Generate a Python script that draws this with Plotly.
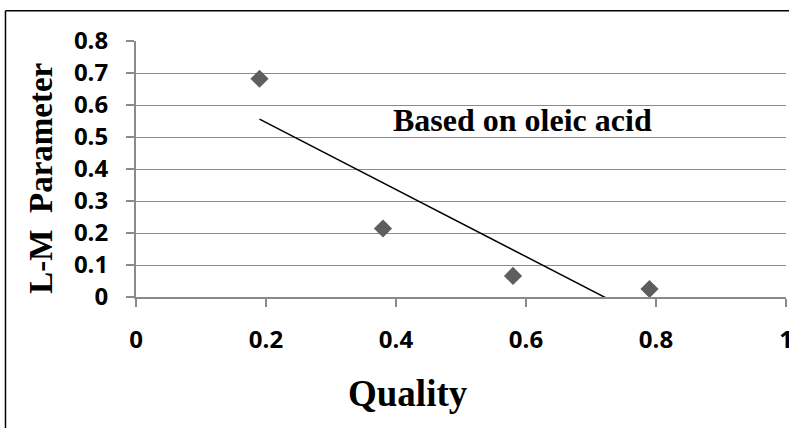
import numpy as np
import plotly.graph_objects as go

# Data
quality = [0.19, 0.38, 0.58, 0.79]
lm_parameter = [0.682, 0.214, 0.066, 0.025]

x_ticks = [0, 0.2, 0.4, 0.6, 0.8, 1]
x_tick_labels = ["0", "0.2", "0.4", "0.6", "0.8", "1"]
y_ticks = [0, 0.1, 0.2, 0.3, 0.4, 0.5, 0.6, 0.7, 0.8]
y_tick_labels = ["0", "0.1", "0.2", "0.3", "0.4", "0.5", "0.6", "0.7", "0.8"]

x_title = "Quality"
y_title = "L-M  Parameter"
annotation_text = "Based on oleic acid"
annotation_pos = (0.594, 0.552)

# Linear trendline (Excel style), spanning the data's x range
slope, intercept = np.polyfit(quality, lm_parameter, 1)
trend_x = [min(quality), max(quality)]
trend_y = [slope * v + intercept for v in trend_x]

fig = go.Figure()
fig.add_trace(go.Scatter(
    x=quality, y=lm_parameter, mode="markers",
    marker=dict(symbol="diamond", size=14, color="#5e5e5e"),
    showlegend=False, cliponaxis=False,
))
fig.add_trace(go.Scatter(
    x=trend_x, y=trend_y, mode="lines",
    line=dict(color="black", width=1.5),
    showlegend=False,
))

grid = "#8a8a8a"
tickfont = dict(family="Open Sans", size=24, color="black", weight="bold")
fig.update_xaxes(
    range=[0, 1], tickvals=x_ticks, ticktext=x_tick_labels,
    showgrid=False, zeroline=False, automargin=False,
    showline=True, linecolor=grid, linewidth=2,
    ticks="outside", ticklen=8, tickcolor=grid, tickwidth=1.5,
    tickfont=tickfont, ticklabelstandoff=12, ticklabeloverflow="allow",
)
fig.update_yaxes(
    range=[0, 0.8], tickvals=y_ticks, ticktext=y_tick_labels,
    showgrid=True, gridcolor=grid, gridwidth=1.3, zeroline=False, automargin=False,
    showline=True, linecolor=grid, linewidth=2,
    ticks="outside", ticklen=8, tickcolor=grid, tickwidth=1.5,
    tickfont=tickfont, ticklabelstandoff=13,
)

fig.add_annotation(
    x=annotation_pos[0], y=annotation_pos[1], xref="x", yref="y",
    text="<b>" + annotation_text + "</b>", showarrow=False,
    font=dict(family="Liberation Serif", size=32, color="black"),
)
fig.add_annotation(
    x=0.4185, y=-0.375, xref="paper", yref="paper",
    xanchor="center", yanchor="middle",
    text="<b>" + x_title + "</b>", showarrow=False,
    font=dict(family="Liberation Serif", size=37, color="black"),
)
fig.add_annotation(
    x=-0.1462, y=0.466, xref="paper", yref="paper",
    xanchor="center", yanchor="middle", textangle=-90,
    text="<b>" + y_title + "</b>", showarrow=False,
    font=dict(family="Liberation Serif", size=33, color="black"),
)

# Outer chart-area border (left and top edges visible)
fig.add_shape(type="line", xref="paper", yref="paper",
              x0=-0.2008, x1=-0.2008, y0=1.118, y1=-0.6,
              line=dict(color="black", width=1.5))
fig.add_shape(type="line", xref="paper", yref="paper",
              x0=-0.2008, x1=1.1, y0=1.118, y1=1.118,
              line=dict(color="black", width=1.5))

fig.update_layout(
    width=789, height=428,
    margin=dict(l=136, r=3, t=41, b=131),
    paper_bgcolor="white", plot_bgcolor="white",
)

fig.write_html("out.html", config={"displayModeBar": False},
               post_script="document.body.style.margin='0';")
